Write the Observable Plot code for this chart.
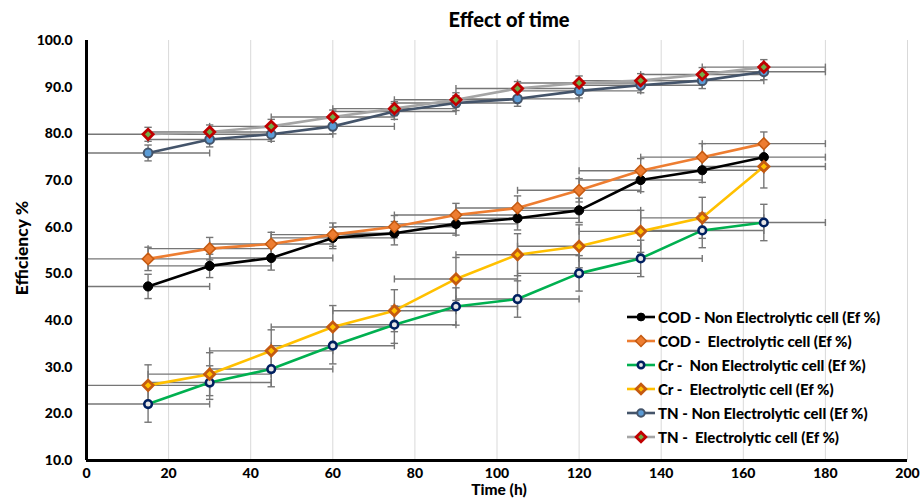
<!DOCTYPE html>
<html>
<head>
<meta charset="utf-8">
<script src="https://cdn.jsdelivr.net/npm/d3@7"></script>
<script src="https://cdn.jsdelivr.net/npm/@observablehq/plot@0.6"></script>
<style>
  body { margin: 0; background: #fff; font-family: Lato, "Open Sans", sans-serif; }
  #wrap { position: relative; width: 924px; height: 500px; overflow: hidden; }
  .ov { position: absolute; font-weight: 900; color: #000; white-space: pre; line-height: 1; }
  #legend { position: absolute; left: 626px; top: 305px; font-weight: 900; font-size: 15px; }
  #legend .row { height: 24px; display: flex; align-items: center; white-space: pre; }
  #legend svg { margin-right: 2px; }
</style>
</head>
<body>
<div id="wrap">
  <div id="chart"></div>
  <div class="ov" style="left:409px;width:200px;text-align:center;top:9px;font-size:20px;">Effect of time</div>
  <div class="ov" style="left:399px;width:200px;text-align:center;top:482px;font-size:15.5px;">Time (h)</div>
  <div class="ov" style="left:22px;top:248px;font-size:17.5px;transform:translate(-50%,-50%) rotate(-90deg);">Efficiency %</div>
  <div id="legend"></div>
</div>
<script>
const hours = [15, 30, 45, 60, 75, 90, 105, 120, 135, 150, 165];
const hourErr = 15;
const xTicks = [0, 20, 40, 60, 80, 100, 120, 140, 160, 180, 200];
const yTicks = [10, 20, 30, 40, 50, 60, 70, 80, 90, 100];

const codNon = [47.3, 51.7, 53.4, 57.7, 58.7, 60.7, 61.9, 63.6, 70.1, 72.2, 75.0];
const codEl  = [53.2, 55.4, 56.4, 58.4, 60.1, 62.6, 64.1, 67.9, 72.1, 75.0, 77.9];
const crNon  = [22.1, 26.7, 29.6, 34.6, 39.1, 43.0, 44.6, 50.1, 53.3, 59.3, 61.0];
const crEl   = [26.1, 28.5, 33.5, 38.6, 42.1, 48.9, 54.1, 55.9, 59.1, 62.0, 73.0];
const tnNon  = [75.9, 78.8, 79.9, 81.6, 84.8, 86.6, 87.5, 89.2, 90.4, 91.4, 93.3];
const tnEl   = [79.9, 80.4, 81.6, 83.6, 85.4, 87.3, 89.7, 90.9, 91.4, 92.7, 94.3];

const codNonErr = [2.6, 2.5, 2.6, 2.3, 2.5, 2.4, 2.5, 2.6, 2.5, 2.6, 2.5];
const codElErr  = [2.5, 2.4, 2.5, 2.5, 2.4, 2.5, 2.6, 2.5, 2.6, 2.9, 2.5];
const crNonErr  = [3.9, 3.6, 3.8, 3.9, 4.0, 4.0, 3.9, 3.8, 3.9, 3.7, 3.9];
const crElErr   = [4.4, 4.6, 4.5, 4.6, 4.5, 4.6, 4.5, 4.6, 4.5, 4.4, 4.6];
const tnNonErr  = [1.7, 1.6, 1.5, 1.6, 1.7, 1.6, 1.6, 1.5, 1.6, 1.7, 1.7];
const tnElErr   = [1.5, 1.5, 1.5, 1.5, 1.5, 1.5, 1.5, 1.5, 1.5, 1.5, 1.6];

const seriesNames = [
  "COD - Non Electrolytic cell (Ef %)",
  "COD -  Electrolytic cell (Ef %)",
  "Cr -  Non Electrolytic cell (Ef %)",
  "Cr -  Electrolytic cell (Ef %)",
  "TN - Non Electrolytic cell (Ef %)",
  "TN -  Electrolytic cell (Ef %)"
];

const series = [
  {name: seriesNames[0], y: codNon, e: codNonErr, line: "#000000", sym: "circle", r: 4.6, fill: "#000000", mstroke: "#000000", msw: 1},
  {name: seriesNames[1], y: codEl, e: codElErr, line: "#ED7D31", sym: "diamond2", r: 5.2, fill: "#ED7D31", mstroke: "#C55A11", msw: 1.5},
  {name: seriesNames[2], y: crNon, e: crNonErr, line: "#00B050", sym: "circle", r: 3.8, fill: "#E7E6E6", mstroke: "#002060", msw: 2.6},
  {name: seriesNames[3], y: crEl, e: crElErr, line: "#FFC000", sym: "diamond2", r: 4.6, fill: "#FFC000", mstroke: "#C55A11", msw: 2.8},
  {name: seriesNames[4], y: tnNon, e: tnNonErr, line: "#44546A", sym: "circle", r: 4.4, fill: "#5B9BD5", mstroke: "#44546A", msw: 2},
  {name: seriesNames[5], y: tnEl, e: tnElErr, line: "#A5A5A5", sym: "diamond2", r: 4.6, fill: "#70AD47", mstroke: "#C00000", msw: 2.8}
];

const errColor = "#767676";
const marks = [];
marks.push(Plot.ruleX(xTicks.slice(1), {stroke: "#d9d9d9", strokeWidth: 1}));

// error bars
for (const s of series) {
  const rows = hours.map((h, i) => ({x: h, y: s.y[i], e: s.e[i]}));
  marks.push(Plot.link(rows, {x1: d => d.x - hourErr, x2: d => d.x + hourErr, y1: "y", y2: "y", stroke: errColor, strokeWidth: 1.4}));
  marks.push(Plot.link(rows, {x1: d => Math.max(0, d.x - hourErr), x2: d => Math.max(0, d.x - hourErr), y1: d => d.y - 0.75, y2: d => d.y + 0.75, stroke: errColor, strokeWidth: 1.4}));
  marks.push(Plot.link(rows, {x1: d => d.x + hourErr, x2: d => d.x + hourErr, y1: d => d.y - 0.75, y2: d => d.y + 0.75, stroke: errColor, strokeWidth: 1.4}));
  marks.push(Plot.link(rows, {x1: "x", x2: "x", y1: d => d.y - d.e, y2: d => d.y + d.e, stroke: errColor, strokeWidth: 1.4}));
  marks.push(Plot.link(rows, {x1: d => d.x - 0.9, x2: d => d.x + 0.9, y1: d => d.y - d.e, y2: d => d.y - d.e, stroke: errColor, strokeWidth: 1.4}));
  marks.push(Plot.link(rows, {x1: d => d.x - 0.9, x2: d => d.x + 0.9, y1: d => d.y + d.e, y2: d => d.y + d.e, stroke: errColor, strokeWidth: 1.4}));
}
// lines
for (const s of series) {
  const rows = hours.map((h, i) => ({x: h, y: s.y[i]}));
  marks.push(Plot.line(rows, {x: "x", y: "y", stroke: s.line, strokeWidth: 2.6}));
}
// markers
for (const s of series) {
  const rows = hours.map((h, i) => ({x: h, y: s.y[i]}));
  marks.push(Plot.dot(rows, {x: "x", y: "y", symbol: s.sym, r: s.r, fill: s.fill, stroke: s.mstroke, strokeWidth: s.msw}));
}
// axes lines
marks.push(Plot.ruleX([0], {stroke: "#000", strokeWidth: 3}));
marks.push(Plot.ruleY([10], {stroke: "#000", strokeWidth: 3}));
marks.push(Plot.axisX({ticks: xTicks, tickSize: 0, tickPadding: 8, label: null, fontSize: 14, fontWeight: 900}));
marks.push(Plot.axisY({ticks: yTicks, tickSize: 0, tickPadding: 14, tickFormat: d => d.toFixed(1), label: null, fontSize: 14, fontWeight: 900}));

const chart = Plot.plot({
  width: 924,
  height: 500,
  marginLeft: 86,
  marginRight: 17,
  marginTop: 40,
  marginBottom: 40,
  style: {fontFamily: "Lato, 'Open Sans', sans-serif", background: "#fff", color: "#000"},
  x: {domain: [0, 200]},
  y: {domain: [10, 100]},
  marks
});
document.getElementById("chart").appendChild(chart);

// legend
const legend = document.getElementById("legend");
for (const s of series) {
  const row = document.createElement("div");
  row.className = "row";
  let marker;
  if (s.sym === "circle") {
    marker = `<circle cx="15" cy="7" r="${s.r * 0.85}" fill="${s.fill}" stroke="${s.mstroke}" stroke-width="${s.msw}"/>`;
  } else {
    const h = s.r * 1.05;
    marker = `<path d="M15 ${7 - h}L${15 + h} 7L15 ${7 + h}L${15 - h} 7Z" fill="${s.fill}" stroke="${s.mstroke}" stroke-width="${s.msw}"/>`;
  }
  row.innerHTML = `<svg width="30" height="14"><line x1="1" y1="7" x2="29" y2="7" stroke="${s.line}" stroke-width="2.6"/>${marker}</svg><span>${s.name}</span>`;
  legend.appendChild(row);
}
</script>
</body>
</html>
